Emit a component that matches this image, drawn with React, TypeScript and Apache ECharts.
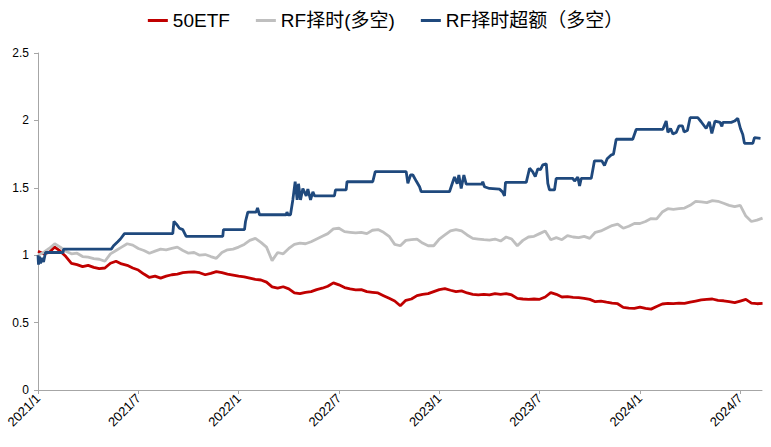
import React, { useEffect, useRef } from "react";
import * as echarts from "echarts";

// x positions are months since 2021/1 (grid every 1/3 month for the two noisy series)
const gridStepsPerMonth = 3;

const etf50 = [
  1.03, 1.01, 1.02, 1.06, 1.03, 0.99, 0.94, 0.93, 0.915, 0.925, 0.91, 0.9, 0.905, 0.94, 0.955, 0.935, 0.925, 0.905,
  0.89, 0.86, 0.835, 0.845, 0.83, 0.845, 0.855, 0.86, 0.87, 0.875, 0.877, 0.87, 0.855, 0.865, 0.878, 0.87, 0.86, 0.853,
  0.845, 0.84, 0.83, 0.82, 0.816, 0.8, 0.765, 0.755, 0.766, 0.75, 0.72, 0.715, 0.725, 0.73, 0.745, 0.755, 0.77, 0.795,
  0.78, 0.76, 0.75, 0.742, 0.745, 0.73, 0.725, 0.72, 0.7, 0.68, 0.66, 0.625, 0.665, 0.675, 0.7, 0.71, 0.715, 0.73,
  0.745, 0.752, 0.74, 0.73, 0.735, 0.72, 0.71, 0.705, 0.71, 0.705, 0.715, 0.71, 0.715, 0.705, 0.68, 0.675, 0.672, 0.675,
  0.673, 0.69, 0.722, 0.71, 0.69, 0.692, 0.687, 0.685, 0.68, 0.672, 0.655, 0.66, 0.652, 0.645, 0.64, 0.613, 0.608, 0.606,
  0.615, 0.605, 0.6, 0.62, 0.638, 0.643, 0.64, 0.645, 0.642, 0.652, 0.66, 0.668, 0.672, 0.675, 0.665, 0.662, 0.655, 0.648,
  0.66, 0.672, 0.645, 0.64, 0.642,
];

const rfTiming = [
  1.0, 1.02, 1.05, 1.085, 1.06, 1.03, 1.01, 1.015, 0.99, 0.985, 0.975, 0.97, 0.955, 1.01, 1.035, 1.06, 1.085, 1.075,
  1.05, 1.035, 1.014, 1.03, 1.045, 1.04, 1.05, 1.06, 1.035, 1.015, 1.02, 1.0, 1.005, 0.99, 0.977, 1.02, 1.04, 1.045,
  1.06, 1.08, 1.11, 1.125, 1.095, 1.06, 0.96, 1.02, 1.01, 1.05, 1.08, 1.09, 1.085, 1.1, 1.12, 1.14, 1.16, 1.195,
  1.2, 1.175, 1.17, 1.165, 1.17, 1.16, 1.185, 1.19, 1.17, 1.14, 1.08, 1.07, 1.11, 1.115, 1.12, 1.09, 1.07, 1.07,
  1.12, 1.15, 1.18, 1.19, 1.18, 1.15, 1.125, 1.12, 1.115, 1.112, 1.12, 1.105, 1.135, 1.12, 1.07, 1.11, 1.135, 1.14,
  1.16, 1.18, 1.115, 1.13, 1.115, 1.145, 1.135, 1.13, 1.14, 1.125, 1.17, 1.18, 1.2, 1.22, 1.23, 1.2, 1.215, 1.235,
  1.235, 1.25, 1.272, 1.27, 1.32, 1.345, 1.34, 1.345, 1.35, 1.37, 1.4, 1.395, 1.39, 1.405, 1.4, 1.385, 1.37, 1.36,
  1.37, 1.29, 1.25, 1.26, 1.275,
];

// step-like series: breakpoints (month offset, value)
const excessMonths = [
  0.0, 0.03, 0.09, 0.15, 0.24, 0.33, 0.45, 1.5, 1.53, 4.38, 4.52, 4.77, 4.93, 5.17, 8.06, 8.13, 8.28, 8.46, 8.66, 8.86,
  11.05, 11.09, 12.35, 12.41, 12.55, 13.05, 13.13, 13.25, 14.84, 14.89, 14.95, 15.1, 15.24, 15.38, 15.5, 15.58, 15.7,
  15.84, 16.04, 16.14, 16.3, 16.44, 16.54, 17.73, 17.79, 18.43, 18.48, 20.02, 20.17, 22.02, 22.12, 22.28, 22.42, 22.62,
  22.82, 22.92, 24.61, 24.81, 24.91, 25.07, 25.17, 25.31, 25.47, 25.61, 26.54, 26.6, 26.7, 27.0, 27.6, 27.78, 27.9,
  27.96, 29.2, 29.4, 29.58, 29.74, 29.89, 30.05, 30.19, 30.4, 30.49, 30.59, 30.89, 30.99, 31.98, 32.09, 32.28, 32.39,
  32.49, 33.09, 33.28, 33.72, 33.88, 34.04, 34.28, 34.42, 34.58, 35.57, 35.78, 37.37, 37.57, 37.67, 37.83, 37.97, 38.17,
  38.34, 38.54, 38.64, 38.84, 39.0, 39.46, 39.66, 39.96, 40.15, 40.3, 40.49, 40.79, 40.9, 40.96, 41.46, 41.66, 41.85,
  42.01, 42.15, 42.25, 42.75, 42.85, 43.21,
];
const excessValues = [
  1.0, 0.93, 0.99, 0.94, 0.98, 0.95, 1.02, 1.02, 1.045, 1.045, 1.07, 1.1, 1.12, 1.16, 1.16, 1.25, 1.23, 1.2, 1.19, 1.14,
  1.14, 1.19, 1.19, 1.25, 1.32, 1.32, 1.35, 1.3, 1.3, 1.32, 1.3, 1.3, 1.41, 1.545, 1.41, 1.53, 1.41,
  1.495, 1.44, 1.49, 1.41, 1.47, 1.44, 1.44, 1.484, 1.484, 1.545, 1.545, 1.62, 1.62, 1.533, 1.595, 1.595, 1.55,
  1.508, 1.471, 1.471, 1.545, 1.58, 1.53, 1.595, 1.495, 1.595, 1.528, 1.528, 1.545, 1.508, 1.495, 1.49, 1.47, 1.44,
  1.54, 1.54, 1.645, 1.62, 1.583, 1.64, 1.635, 1.67, 1.677, 1.533, 1.484, 1.484, 1.57, 1.57, 1.55, 1.58, 1.513,
  1.57, 1.57, 1.7, 1.7, 1.665, 1.715, 1.743, 1.75, 1.86, 1.86, 1.934, 1.934, 1.995, 1.911, 1.94, 1.9, 1.91,
  1.96, 1.96, 1.915, 1.925, 2.02, 2.02, 1.99, 1.94, 1.99, 1.904, 1.995, 1.985, 1.955, 1.985, 1.985, 1.995, 2.015,
  1.94, 1.896, 1.83, 1.83, 1.872, 1.867,
];

const seriesNames = ["50ETF", "RF择时(多空)", "RF择时超额（多空）"];
const xTickMonths = [0, 6, 12, 18, 24, 30, 36, 42];
const yTicks = [0, 0.5, 1, 1.5, 2, 2.5];

const FONT = "'Liberation Sans', Arial, 'Noto Sans CJK SC', sans-serif";

export default function App() {
  const ref = useRef<HTMLDivElement>(null);
  useEffect(() => {
    if (!ref.current) return;
    const chart = echarts.init(ref.current, undefined, { renderer: "svg" });
    const etfData = etf50.map((v, i) => [i / gridStepsPerMonth, v]);
    const rfData = rfTiming.map((v, i) => [i / gridStepsPerMonth, v]);
    const exData = excessMonths.map((m, i) => [m, excessValues[i]]);
    chart.setOption({
      animation: false,
      textStyle: { fontFamily: FONT },
      legend: {
        top: 6,
        left: "center",
        icon: "rect",
        itemWidth: 20,
        itemHeight: 3,
        itemGap: 26,
        textStyle: { fontSize: 19, color: "#000", fontFamily: FONT },
        data: seriesNames,
      },
      grid: { left: 38, right: 9, top: 53, bottom: 57, containLabel: false },
      xAxis: {
        type: "value",
        min: 0,
        max: 43.3,
        interval: 6,
        splitLine: { show: false },
        axisLine: { show: true, lineStyle: { color: "#a6a6a6", width: 1 } },
        axisTick: { show: true, length: 4, lineStyle: { color: "#a6a6a6" }, customValues: xTickMonths },
        axisLabel: {
          customValues: xTickMonths,
          rotate: 45,
          margin: 6,
          fontSize: 13,
          color: "#000",
          fontFamily: FONT,
          formatter: (v: number) => `${2021 + Math.floor(v / 12)}/${(v % 12) + 1}`,
        },
      },
      yAxis: {
        type: "value",
        min: 0,
        max: 2.5,
        interval: 0.5,
        splitLine: { show: false },
        axisLine: { show: true, lineStyle: { color: "#a6a6a6", width: 1 } },
        axisTick: { show: true, length: 4, lineStyle: { color: "#a6a6a6" } },
        axisLabel: {
          fontSize: 12,
          color: "#000",
          margin: 9,
          fontFamily: FONT,
          customValues: yTicks,
        },
      },
      series: [
        {
          name: seriesNames[0],
          type: "line",
          data: etfData,
          showSymbol: false,
          lineStyle: { color: "#C00000", width: 2.8 },
          itemStyle: { color: "#C00000" },
        },
        {
          name: seriesNames[1],
          type: "line",
          data: rfData,
          showSymbol: false,
          lineStyle: { color: "#BFBFBF", width: 2.8 },
          itemStyle: { color: "#BFBFBF" },
        },
        {
          name: seriesNames[2],
          type: "line",
          data: exData,
          showSymbol: false,
          lineStyle: { color: "#1F497D", width: 2.8 },
          itemStyle: { color: "#1F497D" },
        },
      ],
    });
    return () => chart.dispose();
  }, []);
  return <div ref={ref} style={{ width: 771, height: 447, position: "absolute", left: 0, top: 0 }} />;
}
